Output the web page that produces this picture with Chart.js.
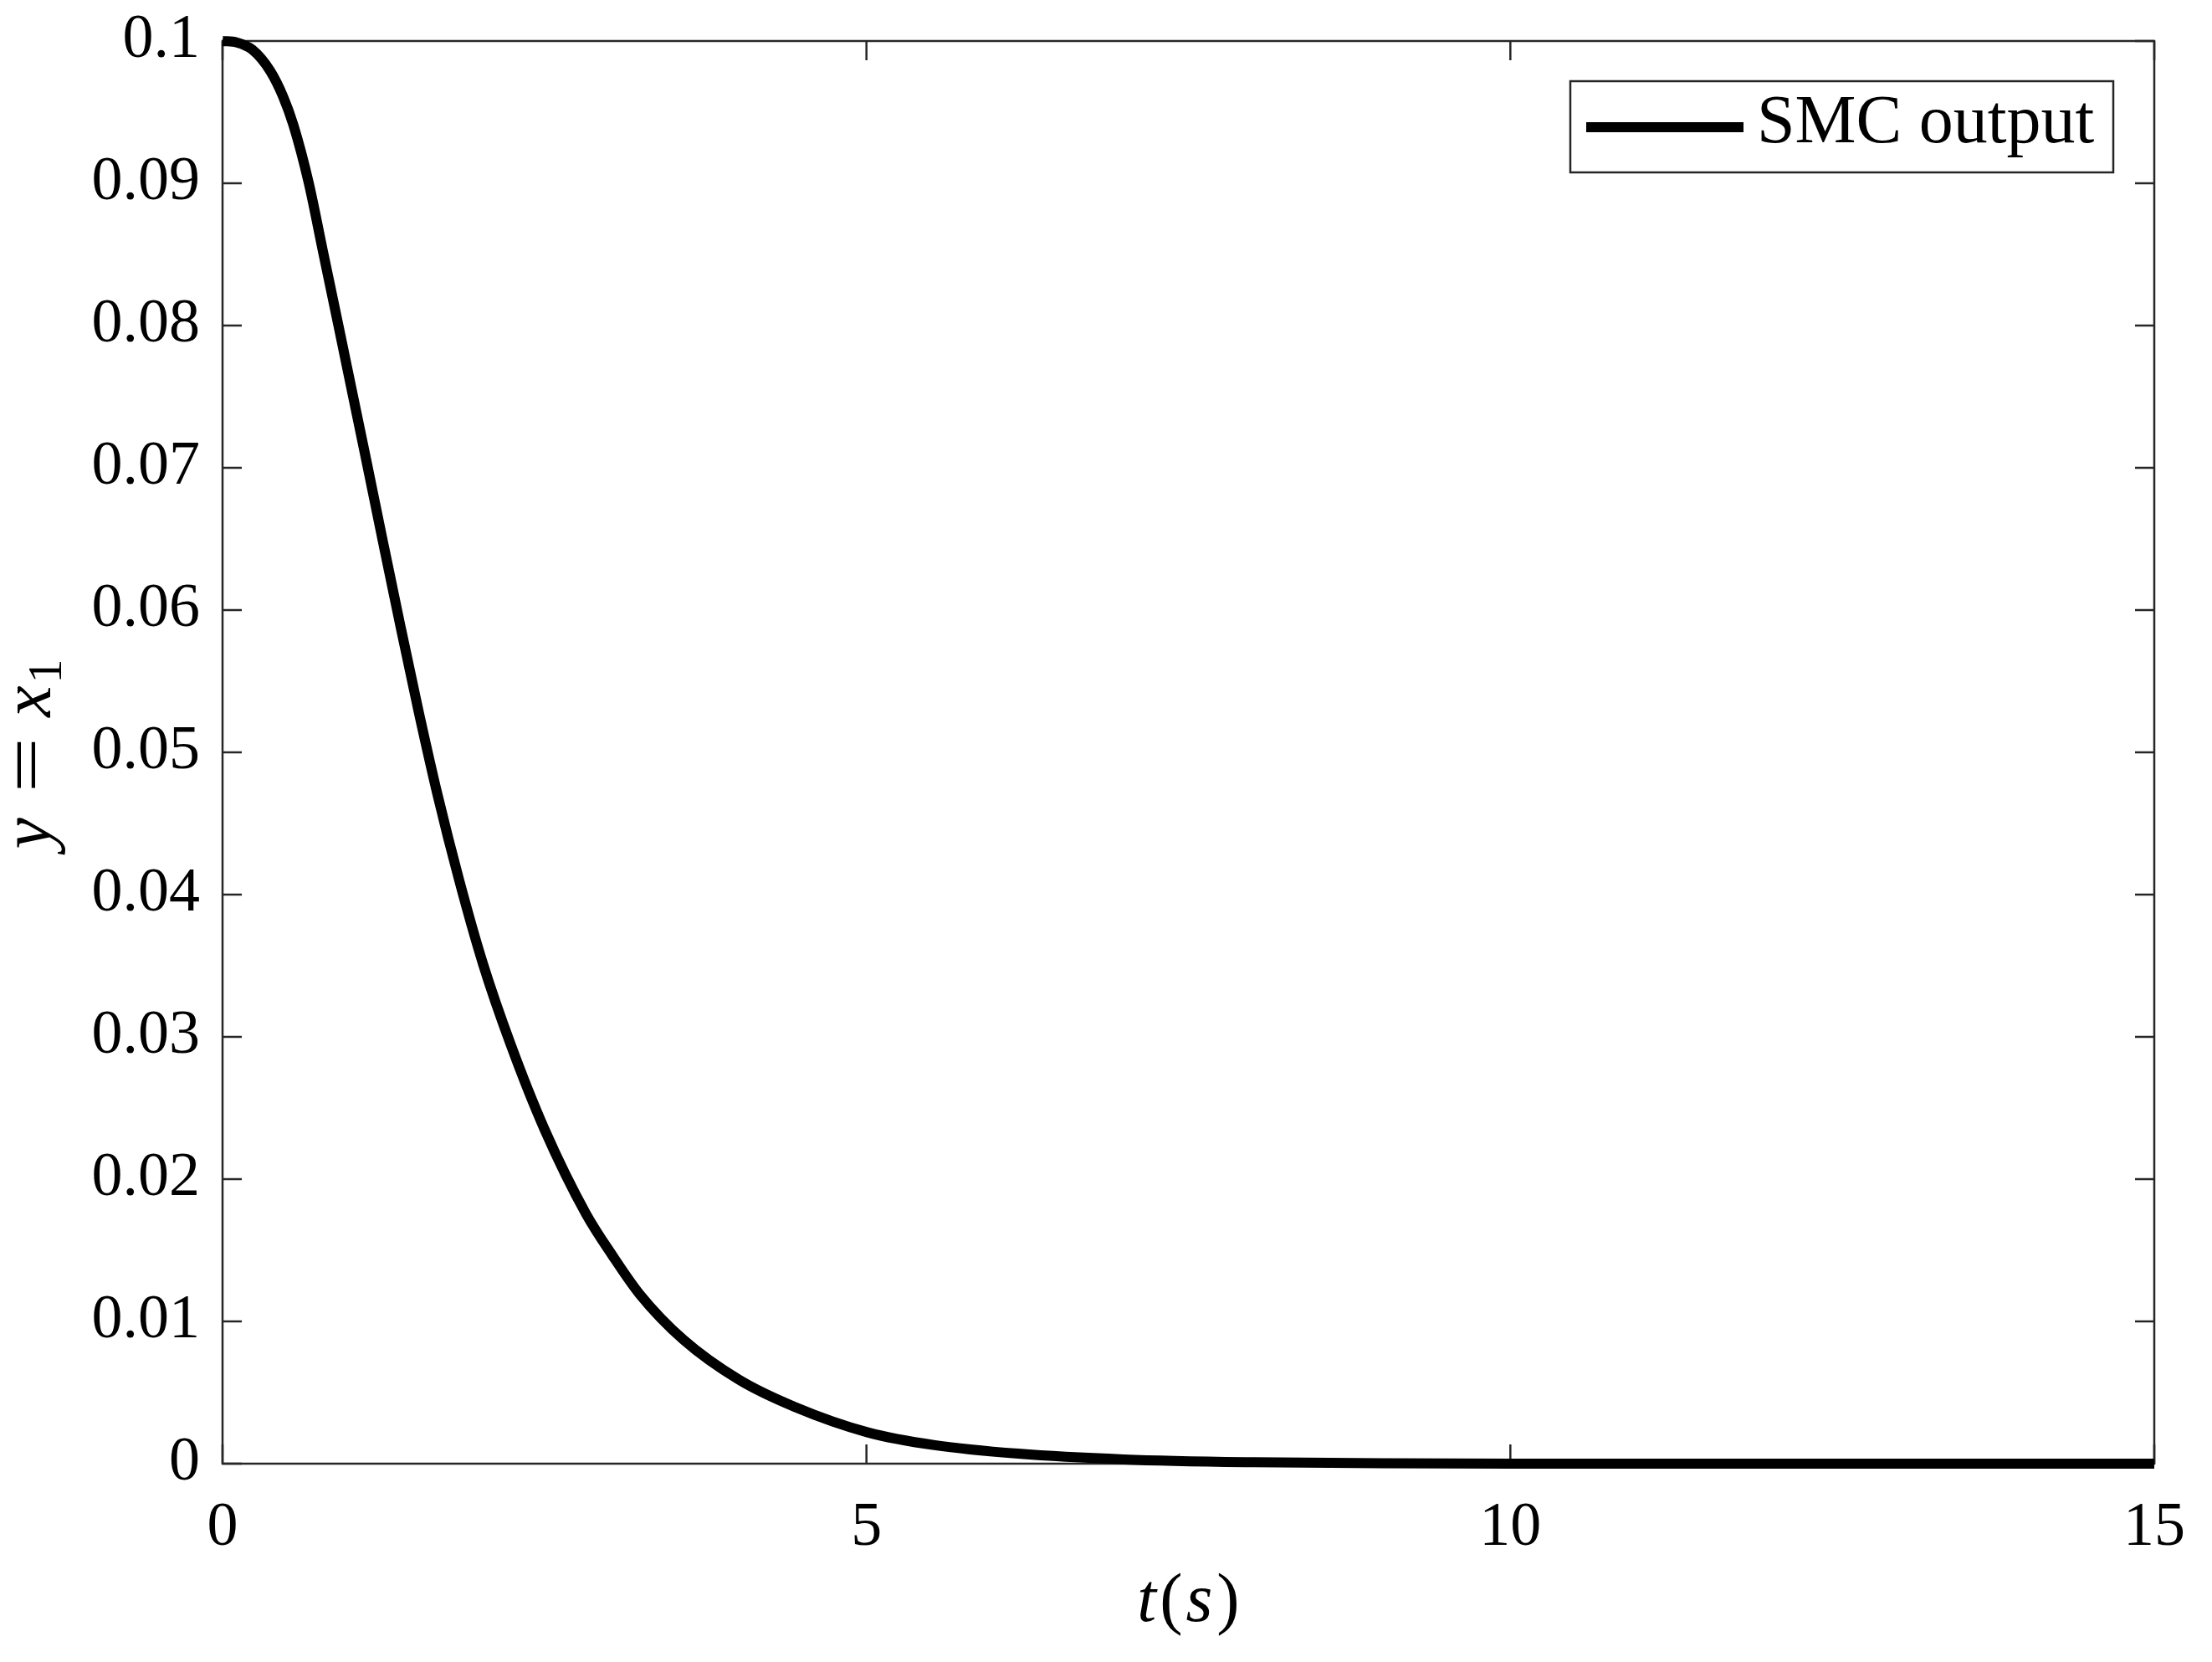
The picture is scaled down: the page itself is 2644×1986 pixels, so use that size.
<!DOCTYPE html>
<html>
<head>
<meta charset="utf-8">
<script src="https://cdn.jsdelivr.net/npm/chart.js@4.4.1/dist/chart.umd.min.js"></script>
<style>
  html, body { margin: 0; padding: 0; background: #fff; }
  #wrap { width: 2644px; height: 1986px; }
</style>
</head>
<body>
<div id="wrap"><canvas id="c" width="2644" height="1986"></canvas></div>
<script>
// data
const timeValues = [0, 0.11, 0.23, 0.37, 0.47, 0.55, 0.67, 0.78, 0.90, 1.005, 1.117, 1.248, 1.383, 1.522, 1.67, 1.835, 2.02, 2.24, 2.50, 2.82, 3.03, 3.24, 3.58, 4.01, 4.44, 5.01, 5.53, 6.18, 7.0, 8.0, 9.0, 10, 12, 15];
const smcOutput = [0.1, 0.0999, 0.0994, 0.0979, 0.0961, 0.0941, 0.09, 0.0852, 0.08, 0.0754, 0.0705, 0.0647, 0.0588, 0.0529, 0.047, 0.0411, 0.0352, 0.0294, 0.0235, 0.0176, 0.0146, 0.0119, 0.0087, 0.0059, 0.0040, 0.0022, 0.0013, 0.0007, 0.0003, 0.0001, 0.00003, 0, 0, 0];
const xTicks = [0, 5, 10, 15];
const yTicks = [0, 0.01, 0.02, 0.03, 0.04, 0.05, 0.06, 0.07, 0.08, 0.09, 0.1];
const seriesLabel = "SMC output";

const SERIF = "'Liberation Serif', 'Times New Roman', serif";
const AXIS_COLOR = "#262626";

// draw a run of text pieces with mixed styles, starting at x
function drawRuns(ctx, runs, x, y) {
  let cx = x;
  runs.forEach((r) => {
    ctx.font = r.font;
    const w = ctx.measureText(r.text).width * (r.sx || 1);
    ctx.save();
    ctx.translate(cx, y + (r.dy || 0));
    ctx.scale(r.sx || 1, 1);
    ctx.fillText(r.text, 0, 0);
    ctx.restore();
    cx += w + (r.gap || 0);
  });
}
function runsWidth(ctx, runs) {
  let w = 0;
  runs.forEach((r) => {
    ctx.font = r.font;
    w += ctx.measureText(r.text).width * (r.sx || 1) + (r.gap || 0);
  });
  return w;
}

// box, inward ticks (matlab style)
const framePlugin = {
  id: "frame",
  beforeDatasetsDraw(chart) {
    const { ctx, chartArea: a, scales } = chart;
    const tl = 23;
    ctx.save();
    ctx.strokeStyle = AXIS_COLOR;
    ctx.lineWidth = 2.5;
    ctx.strokeRect(a.left, a.top, a.right - a.left, a.bottom - a.top);
    ctx.beginPath();
    xTicks.forEach((v) => {
      const px = scales.x.getPixelForValue(v);
      ctx.moveTo(px, a.bottom); ctx.lineTo(px, a.bottom - tl);
      ctx.moveTo(px, a.top); ctx.lineTo(px, a.top + tl);
    });
    yTicks.forEach((v) => {
      const py = scales.y.getPixelForValue(v);
      ctx.moveTo(a.left, py); ctx.lineTo(a.left + tl, py);
      ctx.moveTo(a.right, py); ctx.lineTo(a.right - tl, py);
    });
    ctx.stroke();
    ctx.restore();
  },
  afterDraw(chart) {
    const { ctx, chartArea: a } = chart;
    ctx.save();
    ctx.fillStyle = "#000";
    ctx.textBaseline = "alphabetic";

    // x title: t(s)
    const xRuns = [
      { text: "t", font: "italic 82px " + SERIF, gap: 4 },
      { text: "(", font: "82px " + SERIF, gap: 4 },
      { text: "s", font: "italic 82px " + SERIF, gap: 5 },
      { text: ")", font: "82px " + SERIF },
    ];
    const xw = runsWidth(ctx, xRuns);
    drawRuns(ctx, xRuns, (a.left + a.right) / 2 - xw / 2, 1937);

    // y title: y = x1
    const yRuns = [
      { text: "y", font: "italic 84px " + SERIF, gap: 30 },
      { text: "=", font: "84px " + SERIF, sx: 1.4, gap: 24 },
      { text: "x", font: "italic 84px " + SERIF, gap: 3 },
      { text: "1", font: "58px " + SERIF, dy: 13 },
    ];
    ctx.translate(60, (a.top + a.bottom) / 2 + 2);
    ctx.rotate(-Math.PI / 2);
    const yw = runsWidth(ctx, yRuns);
    drawRuns(ctx, yRuns, -yw / 2, 0);
    ctx.restore();

    // legend
    ctx.save();
    const bw = 649, bh = 109;
    const bx = a.right - 49 - bw, by = a.top + 48;
    ctx.fillStyle = "#fff";
    ctx.fillRect(bx, by, bw, bh);
    ctx.strokeStyle = AXIS_COLOR;
    ctx.lineWidth = 2.5;
    ctx.strokeRect(bx, by, bw, bh);
    ctx.strokeStyle = "#000";
    ctx.lineWidth = 12;
    ctx.beginPath();
    ctx.moveTo(bx + 19, by + 55);
    ctx.lineTo(bx + 207, by + 55);
    ctx.stroke();
    ctx.fillStyle = "#000";
    ctx.font = "82px " + SERIF;
    ctx.textBaseline = "alphabetic";
    ctx.fillText(chart.data.datasets[0].label, bx + 223, by + 73);
    ctx.restore();
  },
};

const points = timeValues.map((t, i) => ({ x: t, y: smcOutput[i] }));

new Chart(document.getElementById("c"), {
  type: "line",
  data: {
    datasets: [
      {
        label: seriesLabel,
        data: points,
        borderColor: "#000",
        borderWidth: 12,
        pointRadius: 0,
        fill: false,
        cubicInterpolationMode: "monotone",
        clip: false,
      },
    ],
  },
  options: {
    responsive: false,
    devicePixelRatio: 1,
    animation: false,
    layout: { padding: { top: 49, right: 69, left: 0, bottom: 0 } },
    plugins: { legend: { display: false }, tooltip: { enabled: false } },
    scales: {
      x: {
        type: "linear",
        min: 0,
        max: 15,
        afterBuildTicks: (s) => { s.ticks = xTicks.map((v) => ({ value: v })); },
        afterFit: (s) => { s.height = 237; s.paddingLeft = 0; s.paddingRight = 0; },
        grid: { display: false, drawTicks: false },
        border: { display: false },
        ticks: {
          color: "#000",
          padding: 33,
          maxRotation: 0,
          font: { family: SERIF, size: 74 },
          callback: (v) => String(v),
        },
      },
      y: {
        type: "linear",
        min: 0,
        max: 0.1,
        afterBuildTicks: (s) => { s.ticks = yTicks.map((v) => ({ value: v })); },
        afterFit: (s) => { s.width = 266; s.paddingTop = 0; s.paddingBottom = 0; },
        grid: { display: false, drawTicks: false },
        border: { display: false },
        ticks: {
          color: "#000",
          padding: 27,
          font: { family: SERIF, size: 74 },
          callback: (v) => String(Number(v.toFixed(2))),
        },
      },
    },
  },
  plugins: [framePlugin],
});
</script>
</body>
</html>
